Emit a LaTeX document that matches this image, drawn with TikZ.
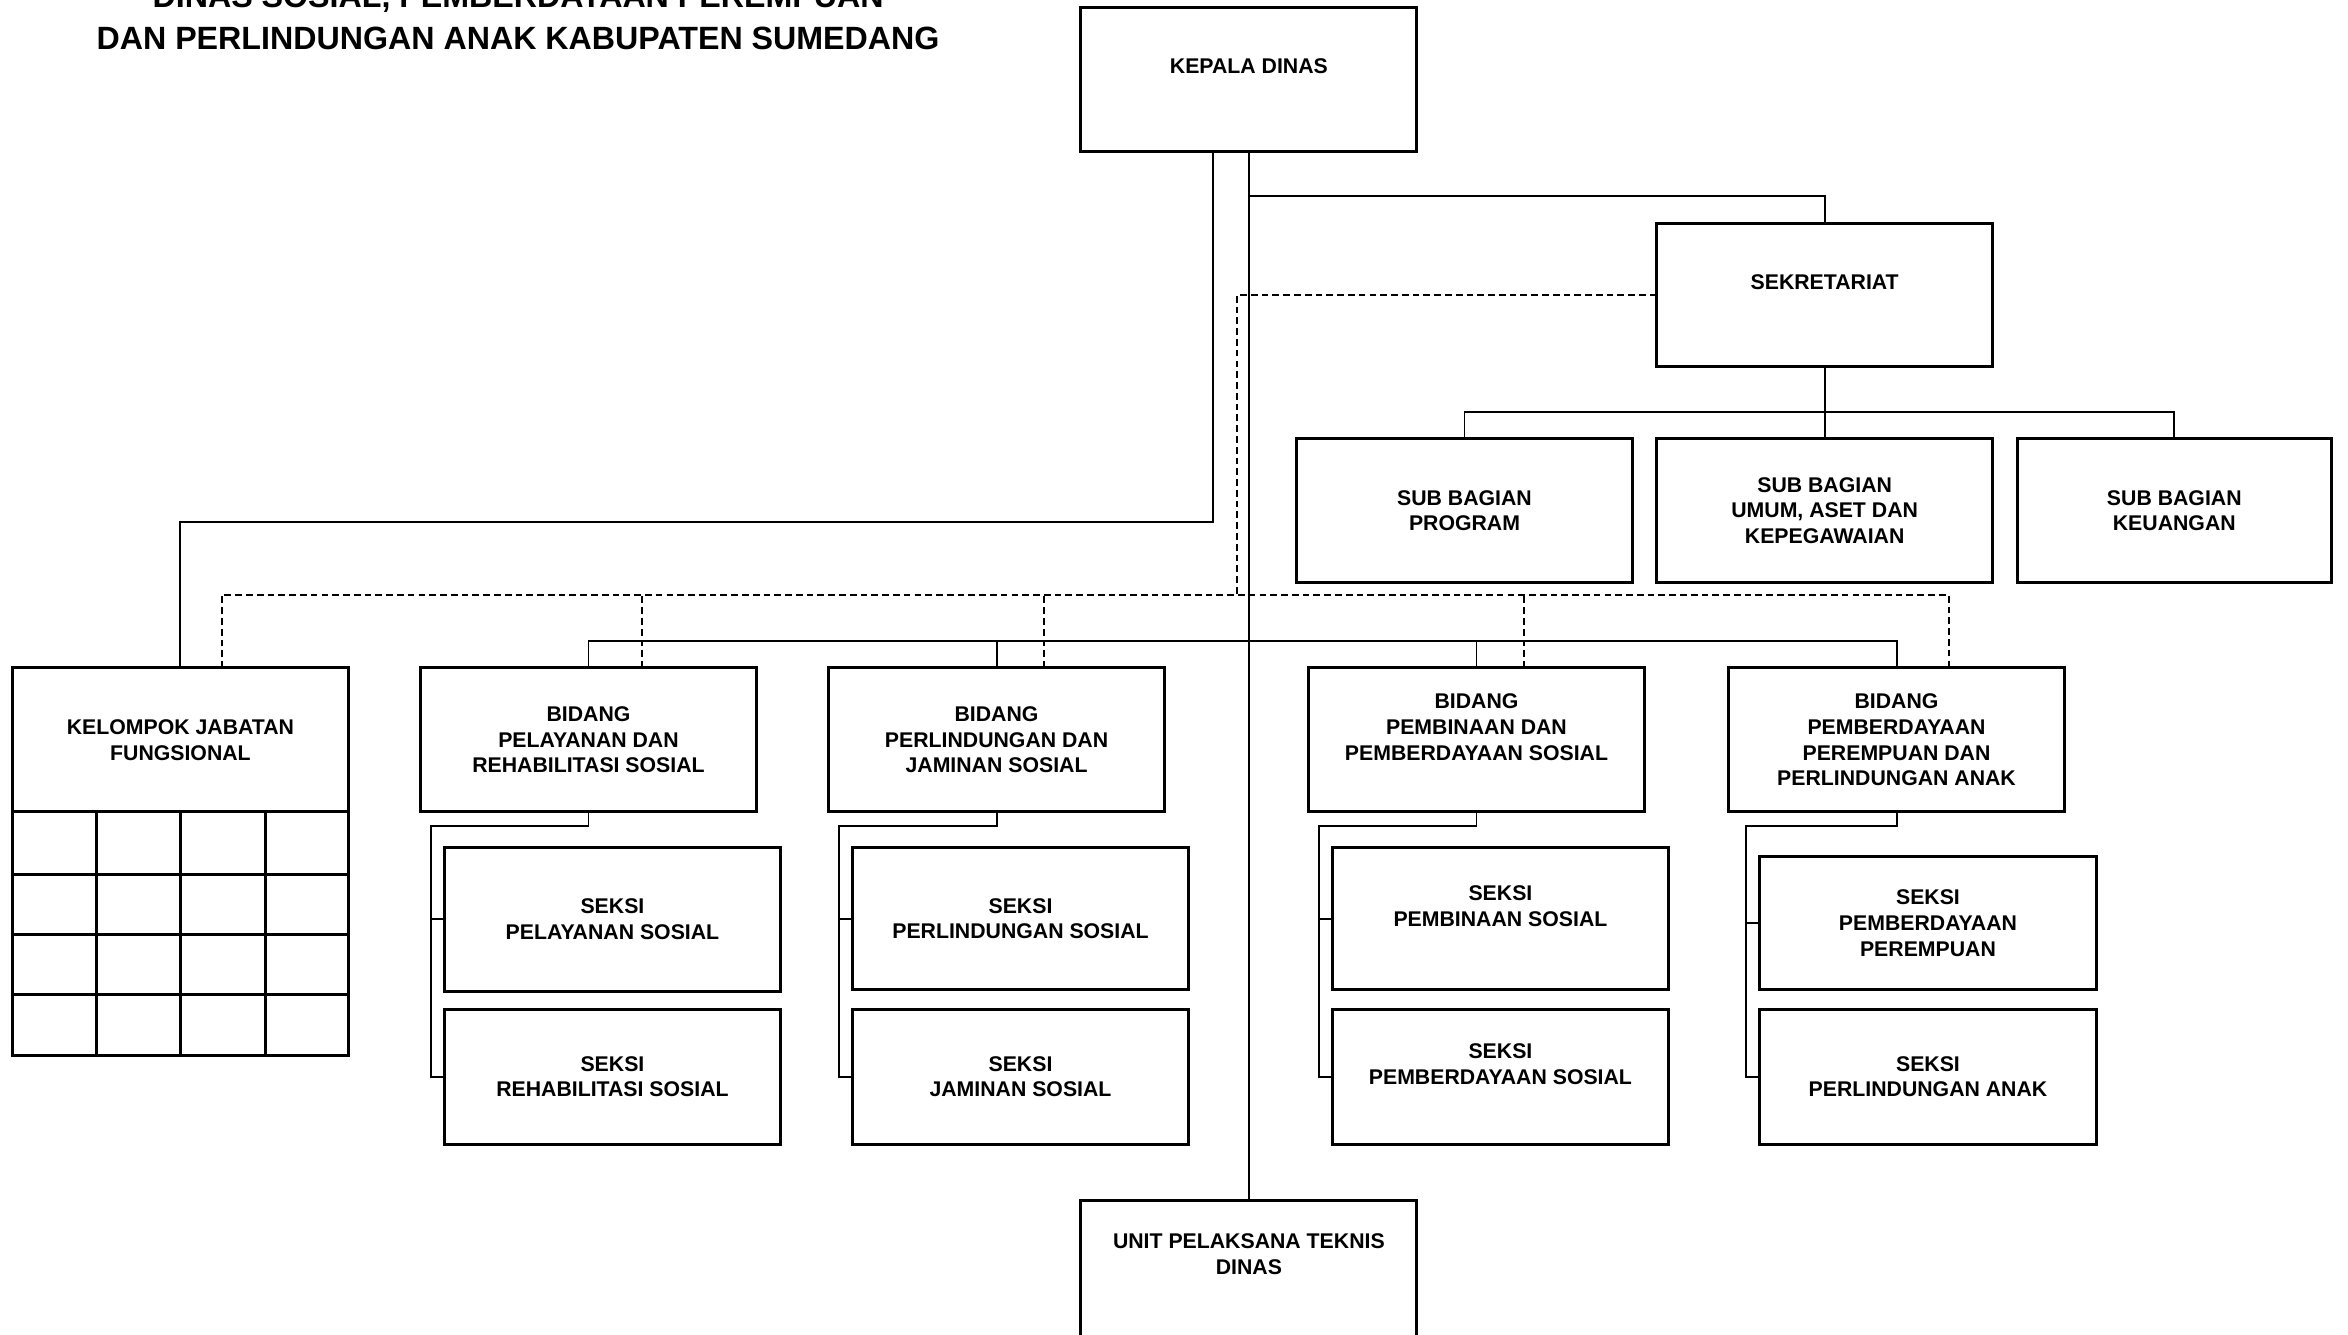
\documentclass[tikz,border=0pt]{standalone}
\usepackage{fontspec}
\setmainfont{Liberation Sans}
\begin{document}
\begin{tikzpicture}[x=1pt,y=-1pt,
    box/.style={draw,line width=2pt,fill=white,align=center,inner sep=2pt,outer sep=0pt,
      minimum width=224.5pt,minimum height=96pt,
      font=\bfseries\fontsize{14.2}{17.3}\selectfont},
    conn/.style={line width=1.3pt},
    dashconn/.style={line width=1.3pt,dash pattern=on 4.5pt off 2.7pt}]
    \clip (0,0) rectangle (1568,891);
    \node[anchor=south,inner sep=0,align=center,font=\bfseries\fontsize{21.5}{27.8}\selectfont] (title) at (346,33.4) {DINAS SOSIAL, PEMBERDAYAAN PEREMPUAN\\DAN PERLINDUNGAN ANAK KABUPATEN SUMEDANG};
    \node[box] (kepala) at (834,53) {KEPALA DINAS\\\mbox{}};
    \node[box] (sekre) at (1218.5,197) {SEKRETARIAT\\\mbox{}};
    \node[box] (program) at (978,341) {SUB BAGIAN\\PROGRAM};
    \node[box] (umum) at (1218.5,341) {SUB BAGIAN\\UMUM, ASET DAN\\KEPEGAWAIAN};
    \node[box,minimum width=210pt] (keuangan) at (1452,341) {SUB BAGIAN\\KEUANGAN};
    \node[box] (kjf) at (120.5,494) {KELOMPOK JABATAN\\FUNGSIONAL};
    \node[box] (b1) at (393,494) {BIDANG\\PELAYANAN DAN\\REHABILITASI SOSIAL};
    \node[box] (b2) at (665.5,494) {BIDANG\\PERLINDUNGAN DAN\\JAMINAN SOSIAL};
    \node[box] (b3) at (986,494) {BIDANG\\PEMBINAAN DAN\\PEMBERDAYAAN SOSIAL\\\mbox{}};
    \node[box] (b4) at (1266.5,494) {BIDANG\\PEMBERDAYAAN\\PEREMPUAN DAN\\PERLINDUNGAN ANAK};
    \node[box] (s11) at (409,614) {SEKSI\\PELAYANAN SOSIAL};
    \node[box,minimum height=90pt] (s12) at (409,719) {SEKSI\\REHABILITASI SOSIAL};
    \node[box,minimum height=95pt] (s21) at (681.5,613.5) {SEKSI\\PERLINDUNGAN SOSIAL};
    \node[box,minimum height=90pt] (s22) at (681.5,719) {SEKSI\\JAMINAN SOSIAL};
    \node[box,minimum height=95pt] (s31) at (1002,613.5) {SEKSI\\PEMBINAAN SOSIAL\\\mbox{}};
    \node[box,minimum height=90pt] (s32) at (1002,719) {SEKSI\\PEMBERDAYAAN SOSIAL\\\mbox{}};
    \node[box,minimum height=89pt] (s41) at (1287.5,616.5) {SEKSI\\PEMBERDAYAAN\\PEREMPUAN};
    \node[box,minimum height=90pt] (s42) at (1287.5,719) {SEKSI\\PERLINDUNGAN ANAK};
    \node[box] (upt) at (834,850) {UNIT PELAKSANA TEKNIS\\DINAS\\[8pt]\mbox{}};
    \draw[line width=2pt] (kjf.south west) rectangle ([yshift=-163pt]kjf.south east);
    \foreach \r in {42,82,122}
      \draw[line width=2pt] ([yshift=-\r pt]kjf.south west) -- ([yshift=-\r pt]kjf.south east);
    \foreach \c in {56.25,112.5,168.75}
      \draw[line width=2pt] ([xshift=\c pt]kjf.south west) -- ++(0,163);
    \draw[conn] (kepala.south) -- (upt.north);
    \draw[conn] (kepala.south) ++(0,30) -| (sekre.north);
    \draw[conn] ([xshift=-24pt]kepala.south) -- ++(0,247.5) -| (kjf.north);
    \draw[conn] (sekre.south) -- (umum.north);
    \draw[conn] (sekre.south) ++(0,30) -| (program.north);
    \draw[conn] (sekre.south) ++(0,30) -| (keuangan.north);
    \draw[conn] (b1.north) -- ++(0,-18) -| (b4.north);
    \draw[conn] (b2.north) -- ++(0,-18);
    \draw[conn] (b3.north) -- ++(0,-18);
    \foreach \i in {1,...,4} {
      \draw[conn] (b\i.south) -- ++(0,9.5) -| ([xshift=-9pt]s\i2.west) -- (s\i2.west);
      \draw[conn] ([xshift=-9pt]s\i1.west) -- (s\i1.west);
    }
    \coordinate (dl) at (826,397.5);
    \draw[dashconn] (sekre.west) -| (dl);
    \draw[dashconn] ([xshift=27.5pt]kjf.north) -- ++(0,-48.5) -- ++(1153.5,0) -- ++(0,48.5);
    \draw[dashconn] ([xshift=36pt]b1.north) -- ++(0,-48.5);
    \draw[dashconn] ([xshift=31.5pt]b2.north) -- ++(0,-48.5);
    \draw[dashconn] ([xshift=32pt]b3.north) -- ++(0,-48.5);
\end{tikzpicture}
\end{document}
